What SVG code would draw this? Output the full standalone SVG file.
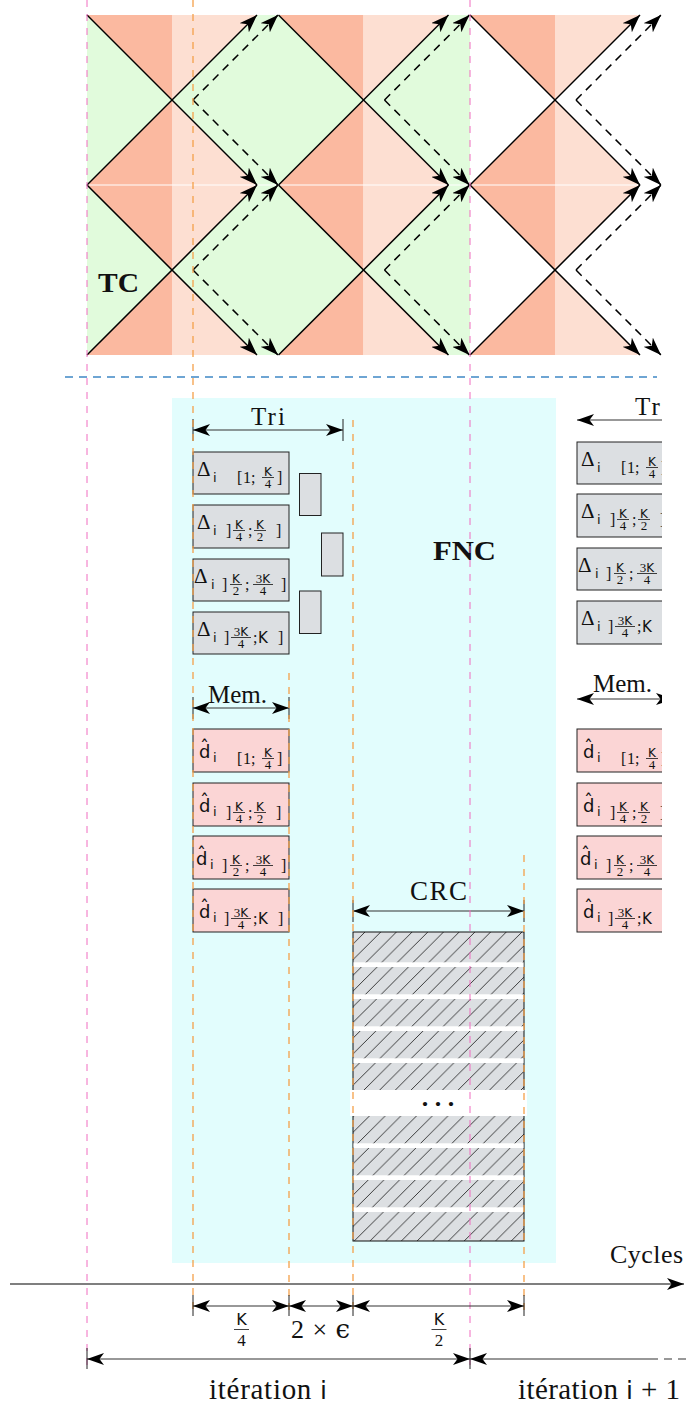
<svg xmlns="http://www.w3.org/2000/svg" width="691" height="1407" viewBox="0 0 691 1407">
<style>
.ln{stroke:#000;stroke-width:1.5;fill:none;marker-end:url(#ta)}
.dl{stroke:#000;stroke-width:1.5;fill:none;stroke-dasharray:8,6;marker-end:url(#ta)}
.pk{stroke:#f06cc0;stroke-width:1;stroke-dasharray:7,7;fill:none}
.or{stroke:#f5a04a;stroke-width:1.3;stroke-dasharray:7,7;fill:none}
.dk{fill:#fbb9a0}
.lt{fill:#fddfd2}
.gr{fill:#e1fbdc}
.wh{fill:#fff}
.gb{fill:#dcdfe2;stroke:#222;stroke-width:1}
.pb{fill:#fbd5d5;stroke:#222;stroke-width:1}
.dim{stroke:#333;stroke-width:1.1;fill:none;marker-start:url(#da);marker-end:url(#da)}
.dm1{stroke:#333;stroke-width:1.1;fill:none;marker-start:url(#da)}
.tk{stroke:#222;stroke-width:1}
.D{font-family:"Liberation Serif","DejaVu Serif",serif;font-size:21px;fill:#111}
.s{font-family:"DejaVu Sans","Liberation Sans",sans-serif;font-size:13px;fill:#111}
.b{font-family:"Liberation Serif","DejaVu Serif",serif;font-size:16px;fill:#111}
.fk{font-family:"DejaVu Sans","Liberation Sans",sans-serif;font-size:12px;fill:#111;text-anchor:middle}
.fd{font-family:"Liberation Serif","DejaVu Serif",serif;font-size:13px;fill:#111;text-anchor:middle}
.fb{stroke:#111;stroke-width:0.8}
.dh{font-family:"DejaVu Sans","Liberation Sans",sans-serif;font-size:18px;fill:#111}
.lb{font-family:"Liberation Serif","DejaVu Serif",serif;fill:#111}
</style>
<defs>
<marker id="ta" viewBox="0 0 18 13" markerWidth="18" markerHeight="13" refX="18" refY="6.5" orient="auto-start-reverse" markerUnits="userSpaceOnUse"><path d="M0,0 L18,6.5 L0,13 L5,6.5 Z" fill="#000"/></marker>
<marker id="da" viewBox="0 0 17 12" markerWidth="17" markerHeight="12" refX="17" refY="6" orient="auto-start-reverse" markerUnits="userSpaceOnUse"><path d="M0,0 L17,6 L0,12 L4.5,6 Z" fill="#000"/></marker>
<pattern id="hatch" patternUnits="userSpaceOnUse" width="15.7" height="15.7" x="365" y="932"><path d="M-2,2 L2,-2 M0,15.7 L15.7,0 M13.7,17.7 L17.7,13.7" stroke="#111" stroke-width="0.8"/></pattern>
<clipPath id="clipR"><rect x="0" y="0" width="662" height="1407"/></clipPath>
<g id="r1"><text class="b" x="44" y="0">[</text><text class="b" x="50" y="0">1</text><text class="b" x="58" y="0">;</text><text class="fk" x="75" y="-7.5">K</text><line class="fb" x1="69" y1="-5.5" x2="81" y2="-5.5"/><text class="fd" x="75" y="4.5">4</text><text class="b" x="84" y="0">]</text></g>
<g id="r2"><text class="b" x="33" y="0">]</text><text class="fk" x="46" y="-7.5">K</text><line class="fb" x1="40" y1="-5.5" x2="52" y2="-5.5"/><text class="fd" x="46" y="4.5">4</text><text class="b" x="55" y="0">;</text><text class="fk" x="67" y="-7.5">K</text><line class="fb" x1="61" y1="-5.5" x2="73" y2="-5.5"/><text class="fd" x="67" y="4.5">2</text><text class="b" x="83" y="0">]</text></g>
<g id="r3"><text class="b" x="29" y="0">]</text><text class="fk" x="43" y="-7.5">K</text><line class="fb" x1="37" y1="-5.5" x2="49" y2="-5.5"/><text class="fd" x="43" y="4.5">2</text><text class="b" x="52" y="0">;</text><text class="fd" x="70" y="-7.5">3<tspan class="fk">K</tspan></text><line class="fb" x1="60" y1="-5.5" x2="80" y2="-5.5"/><text class="fd" x="70" y="4.5">4</text><text class="b" x="88" y="0">]</text></g>
<g id="r4"><text class="b" x="31" y="0">]</text><text class="fd" x="48" y="-7.5">3<tspan class="fk">K</tspan></text><line class="fb" x1="38" y1="-5.5" x2="58" y2="-5.5"/><text class="fd" x="48" y="4.5">4</text><text class="b" x="60" y="0">;</text><text class="s" x="65" y="0" style="font-size:15px">K</text><text class="b" x="85" y="0">]</text></g>
<g id="hD"><text class="D" x="4" y="24">Δ</text><text class="s" x="20" y="30">i</text></g>
<g id="hD3"><text class="D" x="1" y="24">Δ</text><text class="s" x="18" y="30">i</text></g>
<g id="hd"><text class="dh" x="6" y="29">d</text><text class="dh" x="11.5" y="24" text-anchor="middle">ˆ</text><text class="s" x="20" y="33">i</text></g>
</defs>

<g id="tc-region">
<rect class="dk" x="87" y="15" width="85" height="340"/>
<rect class="dk" x="278.5" y="15" width="85" height="340"/>
<rect class="dk" x="470" y="15" width="85" height="340"/>
<rect class="lt" x="172" y="15" width="106.5" height="340"/>
<rect class="lt" x="363.5" y="15" width="106.5" height="340"/>
<rect class="lt" x="555" y="15" width="106" height="340"/>
<polygon class="gr" points="87,15 172,100 87,185"/>
<polygon class="gr" points="87,185 172,270 87,355"/>
<polygon class="gr" points="172,100 257,15 278.5,15 363.5,100 278.5,185 257,185"/>
<polygon class="gr" points="172,270 257,185 278.5,185 363.5,270 278.5,355 257,355"/>
<polygon class="gr" points="363.5,100 448.5,15 470,15 470,185 448.5,185"/>
<polygon class="gr" points="363.5,270 448.5,185 470,185 470,355 448.5,355"/>
<polygon class="wh" points="470,15 555,100 470,185"/>
<polygon class="wh" points="470,185 555,270 470,355"/>
<polygon class="wh" points="555,100 640,15 661,15 661,185 640,185"/>
<polygon class="wh" points="555,270 640,185 661,185 661,355 640,355"/>
<line x1="87" y1="185" x2="661" y2="185" stroke="#fff" stroke-width="1"/>
<text class="lb" x="98" y="292" font-size="28" font-weight="bold" textLength="41" lengthAdjust="spacingAndGlyphs">TC</text>
</g>

<g id="connectors">
<path class="ln" d="M87,15 L257,185"/><path class="ln" d="M87,185 L257,15"/><path class="ln" d="M87,185 L257,355"/><path class="ln" d="M87,355 L257,185"/>
<path class="ln" d="M278.5,15 L448.5,185"/><path class="ln" d="M278.5,185 L448.5,15"/><path class="ln" d="M278.5,185 L448.5,355"/><path class="ln" d="M278.5,355 L448.5,185"/>
<path class="ln" d="M470,15 L640,185"/><path class="ln" d="M470,185 L640,15"/><path class="ln" d="M470,185 L640,355"/><path class="ln" d="M470,355 L640,185"/>
<path class="dl" d="M193,100 L278,15"/><path class="dl" d="M193,100 L278,185"/><path class="dl" d="M193,270 L278,185"/><path class="dl" d="M193,270 L278,355"/>
<path class="dl" d="M384.5,100 L469.5,15"/><path class="dl" d="M384.5,100 L469.5,185"/><path class="dl" d="M384.5,270 L469.5,185"/><path class="dl" d="M384.5,270 L469.5,355"/>
<path class="dl" d="M576,100 L661,15"/><path class="dl" d="M576,100 L661,185"/><path class="dl" d="M576,270 L661,185"/><path class="dl" d="M576,270 L661,355"/>
</g>

<line id="separator" x1="65" y1="377" x2="657" y2="377" stroke="#3f88c5" stroke-width="1.5" stroke-dasharray="8,6"/>

<g id="fnc">
<rect x="172" y="398" width="384" height="865" fill="#e2fdfd"/>
<text class="lb" x="433" y="560" font-size="28" font-weight="bold" textLength="63" lengthAdjust="spacingAndGlyphs">FNC</text>
</g>

<g id="tri">
<line class="dim" x1="193" y1="430" x2="343" y2="430"/>
<line class="tk" x1="193" y1="419" x2="193" y2="441"/>
<line class="tk" x1="343" y1="419" x2="343" y2="441"/>
<text class="lb" x="251" y="425" font-size="25" textLength="34">Tri</text>
</g>

<g id="delta1"><rect class="gb" x="193" y="452" width="96" height="42"/><use href="#hD" x="193" y="452"/><use href="#r1" x="193" y="483"/></g>
<g id="delta2"><rect class="gb" x="193" y="505" width="96" height="43"/><use href="#hD" x="193" y="505"/><use href="#r2" x="193" y="536"/></g>
<g id="delta3"><rect class="gb" x="193" y="559" width="96" height="42"/><use href="#hD3" x="193" y="559"/><use href="#r3" x="193" y="590"/></g>
<g id="delta4"><rect class="gb" x="193" y="612" width="96" height="42"/><use href="#hD" x="193" y="612"/><use href="#r4" x="193" y="643"/></g>

<g id="small-blocks">
<rect class="gb" x="299.5" y="473.5" width="21.5" height="42"/>
<rect class="gb" x="321.5" y="533" width="21.5" height="43"/>
<rect class="gb" x="299.5" y="591" width="21.5" height="42.5"/>
</g>

<g id="mem">
<line class="dim" x1="193" y1="708" x2="289" y2="708"/>
<line class="tk" x1="193" y1="697" x2="193" y2="719"/>
<line class="tk" x1="289" y1="697" x2="289" y2="719"/>
<text class="lb" x="208" y="703" font-size="25" textLength="59">Mem.</text>
</g>

<g id="dhat1"><rect class="pb" x="193" y="729" width="96" height="43"/><use href="#hd" x="193" y="729"/><use href="#r1" x="193" y="764"/></g>
<g id="dhat2"><rect class="pb" x="193" y="783" width="96" height="43"/><use href="#hd" x="193" y="783"/><use href="#r2" x="193" y="818"/></g>
<g id="dhat3"><rect class="pb" x="193" y="836" width="96" height="43"/><use href="#hd" x="190" y="836"/><use href="#r3" x="193" y="871"/></g>
<g id="dhat4"><rect class="pb" x="193" y="889" width="96" height="43"/><use href="#hd" x="193" y="889"/><use href="#r4" x="193" y="924"/></g>

<g id="crc">
<line class="dim" x1="353" y1="911" x2="524" y2="911"/>
<line class="tk" x1="353" y1="900" x2="353" y2="922"/>
<line class="tk" x1="524" y1="900" x2="524" y2="922"/>
<text class="lb" x="410" y="900" font-size="27" textLength="57">CRC</text>
<rect x="353" y="932" width="171" height="309" fill="#dcdfe2"/>
<rect x="353" y="932" width="171" height="309" fill="url(#hatch)" stroke="#111" stroke-width="1"/>
<g fill="#fff">
<rect x="353.5" y="962.3" width="170" height="4.7"/>
<rect x="353.5" y="994.3" width="170" height="4.7"/>
<rect x="353.5" y="1026.3" width="170" height="4.7"/>
<rect x="353.5" y="1058.3" width="170" height="4.7"/>
<rect x="350" y="1090" width="177" height="26"/>
<rect x="353.5" y="1143.3" width="170" height="4.7"/>
<rect x="353.5" y="1175.3" width="170" height="4.7"/>
<rect x="353.5" y="1207.3" width="170" height="4.7"/>
</g>
<text class="lb" x="438" y="1106" font-size="26" text-anchor="middle" font-weight="bold">. . .</text>
</g>

<g id="next-iteration" clip-path="url(#clipR)">
<line class="dm1" x1="577" y1="420" x2="727" y2="420"/>
<text class="lb" x="635" y="415" font-size="25" textLength="34">Tri</text>
<rect class="gb" x="577" y="442" width="96" height="42"/><use href="#hD" x="577" y="442"/><use href="#r1" x="577" y="473"/>
<rect class="gb" x="577" y="494" width="96" height="43"/><use href="#hD" x="577" y="494"/><use href="#r2" x="577" y="525"/>
<rect class="gb" x="577" y="548" width="96" height="42"/><use href="#hD3" x="577" y="548"/><use href="#r3" x="577" y="579"/>
<rect class="gb" x="577" y="601" width="96" height="43"/><use href="#hD" x="577" y="601"/><use href="#r4" x="577" y="632"/>
<line class="dim" x1="577" y1="699" x2="673" y2="699"/>
<text class="lb" x="593" y="692" font-size="25" textLength="59">Mem.</text>
<rect class="pb" x="577" y="729" width="96" height="43"/><use href="#hd" x="577" y="729"/><use href="#r1" x="577" y="764"/>
<rect class="pb" x="577" y="783" width="96" height="43"/><use href="#hd" x="577" y="783"/><use href="#r2" x="577" y="818"/>
<rect class="pb" x="577" y="836" width="96" height="43"/><use href="#hd" x="574" y="836"/><use href="#r3" x="577" y="871"/>
<rect class="pb" x="577" y="889" width="96" height="43"/><use href="#hd" x="577" y="889"/><use href="#r4" x="577" y="924"/>
</g>

<g id="guides">
<line class="pk" x1="87" y1="0" x2="87" y2="1370"/>
<line class="pk" x1="470" y1="0" x2="470" y2="1370"/>
<line class="or" x1="193" y1="0" x2="193" y2="1316"/>
<line class="or" x1="289" y1="673" x2="289" y2="1316"/>
<line class="or" x1="353" y1="420" x2="353" y2="1316"/>
<line class="or" x1="524" y1="855" x2="524" y2="1316"/>
</g>

<g id="axis">
<line x1="10" y1="1284" x2="684" y2="1284" stroke="#000" stroke-width="1.2" marker-end="url(#da)"/>
<text class="lb" x="610" y="1263" font-size="26" textLength="73">Cycles</text>
</g>

<g id="durations">
<line class="dim" x1="193" y1="1306" x2="289" y2="1306"/>
<line class="dim" x1="289" y1="1306" x2="353" y2="1306"/>
<line class="dim" x1="353" y1="1306" x2="524" y2="1306"/>
<line class="tk" x1="193" y1="1295" x2="193" y2="1316"/>
<line class="tk" x1="289" y1="1295" x2="289" y2="1316"/>
<line class="tk" x1="353" y1="1295" x2="353" y2="1316"/>
<line class="tk" x1="524" y1="1295" x2="524" y2="1316"/>
<text class="fk" x="241.5" y="1325" style="font-size:16px">K</text>
<line class="fb" x1="234" y1="1329.5" x2="249" y2="1329.5"/>
<text class="fd" x="241.5" y="1346" style="font-size:17px">4</text>
<text class="lb" x="291" y="1338" font-size="26" textLength="59">2 × <tspan font-family="DejaVu Serif, serif">ϵ</tspan></text>
<text class="fk" x="439" y="1325" style="font-size:16px">K</text>
<line class="fb" x1="431.5" y1="1329.5" x2="446.5" y2="1329.5"/>
<text class="fd" x="439" y="1346" style="font-size:17px">2</text>
</g>

<g id="iterations">
<line class="dim" x1="87" y1="1359" x2="470" y2="1359"/>
<line class="dm1" x1="470" y1="1359" x2="650" y2="1359"/>
<line x1="650" y1="1359" x2="691" y2="1359" stroke="#333" stroke-width="1.1" stroke-dasharray="8,6"/>
<line class="tk" x1="87" y1="1348" x2="87" y2="1369"/>
<line class="tk" x1="470" y1="1348" x2="470" y2="1369"/>
<text class="lb" x="209" y="1399" font-size="29" textLength="118">itération <tspan font-family="DejaVu Sans, sans-serif" font-size="25">i</tspan></text>
<text class="lb" x="518" y="1399" font-size="29" textLength="162">itération <tspan font-family="DejaVu Sans, sans-serif" font-size="25">i</tspan> + 1</text>
</g>
</svg>
